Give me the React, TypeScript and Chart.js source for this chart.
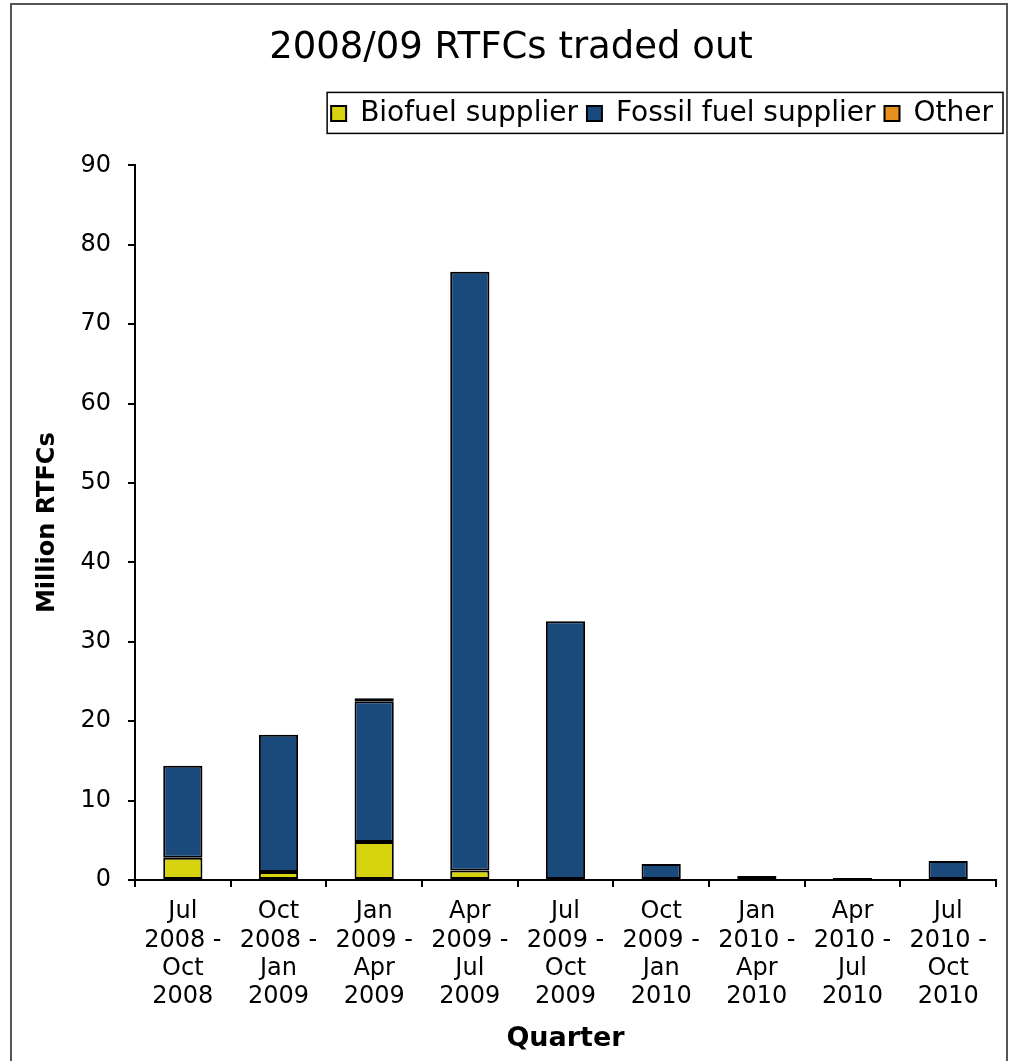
import React, { useEffect, useRef } from 'react';
import { Chart, registerables } from 'chart.js';

Chart.register(...registerables);

const categories: string[][] = [
  ['Jul', '2008 -', 'Oct', '2008'],
  ['Oct', '2008 -', 'Jan', '2009'],
  ['Jan', '2009 -', 'Apr', '2009'],
  ['Apr', '2009 -', 'Jul', '2009'],
  ['Jul', '2009 -', 'Oct', '2009'],
  ['Oct', '2009 -', 'Jan', '2010'],
  ['Jan', '2010 -', 'Apr', '2010'],
  ['Apr', '2010 -', 'Jul', '2010'],
  ['Jul', '2010 -', 'Oct', '2010'],
];
const biofuel = [2.8, 1.0, 4.8, 1.2, 0, 0, 0, 0, 0];
const fossil = [11.6, 17.3, 17.7, 75.4, 32.6, 2.0, 0.5, 0.25, 2.4];
const other = [0, 0, 0.4, 0, 0, 0, 0, 0, 0];

const seriesNames = ['Biofuel supplier', 'Fossil fuel supplier', 'Other'];
const seriesColors = ['#d6d20e', '#1a4a7c', '#e8901e'];
const titleText = '2008/09 RTFCs traded out';
const yTitle = 'Million RTFCs';
const xTitle = 'Quarter';
const yMin = 0;
const yMax = 90;
const yStep = 10;

const FONT = "'DejaVu Sans', Verdana, sans-serif";

const framePlugin = {
  id: 'frame',
  beforeDraw(chart: any) {
    const ctx = chart.ctx;
    ctx.save();
    ctx.fillStyle = '#ffffff';
    ctx.fillRect(0, 0, chart.width, chart.height);
    ctx.strokeStyle = '#555555';
    ctx.lineWidth = 2;
    ctx.strokeRect(11, 4, 996, 1100);
    ctx.restore();
  },
  afterDraw(chart: any) {
    const lg = chart.legend;
    if (!lg || !lg.legendHitBoxes || !lg.legendHitBoxes.length) return;
    const hb = lg.legendHitBoxes;
    const left = Math.min(...hb.map((h: any) => h.left)) - 4;
    const top = hb[0].top - 7;
    const bottom = hb[0].top + hb[0].height + 6;
    const right = 1003;
    const ctx = chart.ctx;
    ctx.save();
    ctx.strokeStyle = '#000000';
    ctx.lineWidth = 1.5;
    ctx.strokeRect(left, top, right - left, bottom - top);
    ctx.restore();
  },
};

export default function App() {
  const ref = useRef<HTMLCanvasElement | null>(null);
  useEffect(() => {
    if (!ref.current) return;
    const values = [biofuel, fossil, other];
    const chart = new Chart(ref.current, {
      type: 'bar',
      data: {
        labels: categories,
        datasets: values.map((v, i) => ({
          label: seriesNames[i],
          data: v.map((d) => (d === 0 ? null : d)),
          backgroundColor: seriesColors[i],
          borderColor: '#000000',
          borderWidth: 2,
          borderSkipped: false,
          categoryPercentage: 1,
          barPercentage: 0.41,
          xAxisID: 'x',
          yAxisID: 'y',
        })),
      },
      options: {
        responsive: false,
        animation: false,
        devicePixelRatio: 1,
        layout: { padding: { left: 20, right: 8, top: 0, bottom: 0 } },
        plugins: {
          title: {
            display: true,
            text: titleText,
            color: '#000',
            font: { family: FONT, size: 37, weight: 'normal' },
            padding: { top: 26, bottom: 20 },
          },
          legend: {
            display: true,
            position: 'top',
            align: 'end',
            labels: {
              color: '#000',
              font: { family: FONT, size: 28 },
              boxWidth: 15,
              boxHeight: 15,
              padding: 9,
            },
          },
          tooltip: { enabled: false },
        },
        scales: {
          x: {
            type: 'category',
            position: 'bottom',
            stacked: true,
            grid: {
              display: true,
              drawOnChartArea: false,
              drawTicks: true,
              tickLength: 7,
              color: '#000',
              lineWidth: 2,
              offset: true,
            },
            border: { display: true, color: '#000', width: 2 },
            ticks: {
              color: '#000',
              font: { family: FONT, size: 24, lineHeight: 1.18 },
              maxRotation: 0,
              minRotation: 0,
              autoSkip: false,
              padding: 11,
            },
            title: {
              display: true,
              text: xTitle,
              color: '#000',
              font: { family: FONT, size: 27, weight: 'bold' },
              padding: { top: 0, bottom: 6 },
            },
            afterFit: (s: any) => { s.height = 181; },
          },
          xTop: {
            type: 'category',
            position: 'top',
            display: true,
            grid: { display: false, drawTicks: false },
            border: { display: false },
            ticks: { display: false },
            afterFit: (s: any) => { s.height = 28; },
          },
          y: {
            type: 'linear',
            position: 'left',
            stacked: true,
            min: yMin,
            max: yMax,
            ticks: {
              stepSize: yStep,
              color: '#000',
              font: { family: FONT, size: 24 },
              padding: 17,
            },
            grid: {
              display: true,
              drawOnChartArea: false,
              drawTicks: true,
              tickLength: 7,
              color: '#000',
              lineWidth: 2,
            },
            border: { display: true, color: '#000', width: 2 },
            title: {
              display: true,
              text: yTitle,
              color: '#000',
              font: { family: FONT, size: 24, weight: 'bold' },
              padding: { top: 13, bottom: 0 },
            },
            afterFit: (s: any) => { s.width = 115; },
          },
          yRight: {
            type: 'linear',
            position: 'right',
            display: true,
            grid: { display: false, drawTicks: false },
            border: { display: false },
            ticks: { display: false },
            afterFit: (s: any) => { s.width = 6; },
          },
        },
      },
      plugins: [framePlugin],
    } as any);
    return () => chart.destroy();
  }, []);
  return (
    <div style={{ position: 'absolute', left: 0, top: 0, width: 1010, height: 1061 }}>
      <canvas ref={ref} width={1010} height={1061} style={{ display: 'block', width: 1010, height: 1061 }} />
    </div>
  );
}
